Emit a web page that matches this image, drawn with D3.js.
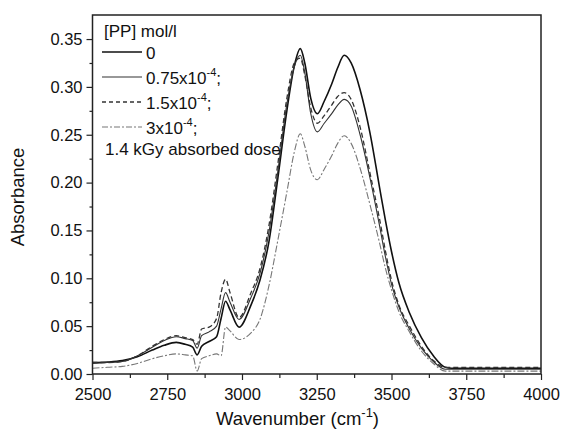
<!DOCTYPE html>
<html>
<head>
<meta charset="utf-8">
<script src="https://cdn.jsdelivr.net/npm/d3@7"></script>
<style>
	body { margin: 0; background: #fff; }
	text { font-family: "Liberation Sans", Arial, sans-serif; fill: #111; }
</style>
</head>
<body>
<div id="chart"></div>
<script>
// wavenumber grid (cm-1) shared by all spectra
const wavenumbers = [2500, 2550, 2600, 2650, 2700, 2740, 2780, 2810, 2835, 2850, 2865, 2890, 2915, 2930, 2945, 2960, 2990,
	3030, 3060, 3090, 3120, 3150, 3175, 3195, 3210, 3230, 3252, 3275, 3300, 3320, 3342, 3365, 3395, 3428, 3460, 3480,
	3500, 3525, 3560, 3600, 3640, 3680, 3700, 3800, 3900, 4000]

const abs0 = [0.012, 0.0125, 0.014, 0.018, 0.025, 0.030, 0.033, 0.031, 0.028, 0.020, 0.029, 0.034, 0.039, 0.058, 0.076, 0.067, 0.049,
	0.072, 0.098, 0.138, 0.205, 0.275, 0.322, 0.340, 0.325, 0.288, 0.272, 0.285, 0.303, 0.320, 0.333, 0.325, 0.297, 0.252, 0.195, 0.160,
	0.128, 0.095, 0.064, 0.038, 0.019, 0.007, 0.006, 0.006, 0.006, 0.006]

const abs075 = [0.011, 0.012, 0.013, 0.019, 0.028, 0.035, 0.039, 0.037, 0.035, 0.027, 0.040, 0.044, 0.050, 0.068, 0.085, 0.075, 0.057,
	0.080, 0.105, 0.148, 0.212, 0.282, 0.321, 0.333, 0.315, 0.272, 0.253, 0.262, 0.272, 0.281, 0.287, 0.280, 0.250, 0.205, 0.155, 0.122,
	0.094, 0.070, 0.047, 0.027, 0.013, 0.005, 0.005, 0.005, 0.005, 0.005]

const abs15 = [0.012, 0.012, 0.013, 0.019, 0.029, 0.036, 0.040, 0.038, 0.036, 0.031, 0.047, 0.049, 0.058, 0.085, 0.099, 0.085, 0.059,
	0.085, 0.110, 0.155, 0.220, 0.288, 0.325, 0.330, 0.312, 0.278, 0.262, 0.270, 0.281, 0.290, 0.294, 0.287, 0.258, 0.210, 0.162, 0.128,
	0.098, 0.072, 0.050, 0.029, 0.014, 0.007, 0.007, 0.007, 0.007, 0.007]

const abs3 = [0.006, 0.007, 0.008, 0.011, 0.016, 0.019, 0.021, 0.020, 0.019, 0.003, 0.016, 0.019, 0.021, 0.019, 0.049, 0.045, 0.036,
	0.043, 0.057, 0.092, 0.140, 0.190, 0.232, 0.251, 0.238, 0.213, 0.203, 0.214, 0.228, 0.241, 0.249, 0.241, 0.215, 0.177, 0.137, 0.110,
	0.088, 0.065, 0.044, 0.024, 0.011, 0.003, 0.003, 0.003, 0.003, 0.003]

const legendTitle = "[PP] mol/l"
const legendNote = "1.4 kGy absorbed dose"
const xTicks = [2500, 2750, 3000, 3250, 3500, 3750, 4000]
const yTicks = [0.00, 0.05, 0.10, 0.15, 0.20, 0.25, 0.30, 0.35]

const series = [
	{ label: "0", sup: "", values: abs0, color: "#111", width: 1.6, dash: null, legendDash: null },
	{ label: "0.75x10", sup: "-4", values: abs075, color: "#333", width: 1.1, dash: null, legendDash: null },
	{ label: "1.5x10", sup: "-4", values: abs15, color: "#333", width: 1.3, dash: "5,3", legendDash: "4,3" },
	{ label: "3x10", sup: "-4", values: abs3, color: "#777", width: 1.1, dash: "7,2,2,2", legendDash: "6,2,2,2" }
]

const params = { width: 561, height: 435, left: 92.5, right: 541, top: 15, bottom: 374 }

const svg = d3.select("#chart")
	.append("svg")
	.attr("width", params.width)
	.attr("height", params.height)

const xScale = d3.scaleLinear().domain([2500, 4000]).range([params.left, params.right])
const yScale = d3.scaleLinear().domain([0, 0.35]).range([params.bottom, params.bottom - 0.35 * 957])

// minor ticks first, then the labelled axes
svg.append("g")
	.attr("transform", `translate(${params.left},0)`)
	.call(d3.axisLeft(yScale).tickValues(d3.range(0.025, 0.37, 0.05)).tickSize(3).tickFormat(""))
	.call(g => g.select(".domain").remove())

svg.append("g")
	.attr("transform", `translate(0,${params.bottom})`)
	.call(d3.axisBottom(xScale).tickValues(d3.range(2625, 4000, 250)).tickSize(4).tickFormat(""))
	.call(g => g.select(".domain").remove())

const yAxis = svg.append("g")
	.attr("transform", `translate(${params.left},0)`)
	.call(d3.axisLeft(yScale).tickValues(yTicks).tickSize(6).tickPadding(4).tickFormat(d3.format(".2f")))
yAxis.select(".domain").remove()
yAxis.selectAll("text").attr("font-size", 16.5).attr("font-family", null)

const xAxis = svg.append("g")
	.attr("transform", `translate(0,${params.bottom})`)
	.call(d3.axisBottom(xScale).tickValues(xTicks).tickSize(6).tickPadding(8).tickFormat(d3.format("d")))
xAxis.select(".domain").remove()
xAxis.selectAll("text").attr("font-size", 16.5).attr("font-family", null)

svg.selectAll(".tick line").attr("stroke", "#222").attr("stroke-width", 1.2)

// spectra
const lineGenerator = d3.line()
	.x((d, i) => xScale(wavenumbers[i]))
	.y(d => yScale(d))
	.curve(d3.curveMonotoneX)

svg.append("g")
	.selectAll("path")
	.data(series)
	.join("path")
	.attr("fill", "none")
	.attr("stroke", d => d.color)
	.attr("stroke-width", d => d.width)
	.attr("stroke-dasharray", d => d.dash)
	.attr("d", d => lineGenerator(d.values))

// plot frame
svg.append("rect")
	.attr("x", params.left)
	.attr("y", params.top)
	.attr("width", params.right - params.left)
	.attr("height", params.bottom - params.top)
	.attr("fill", "none")
	.attr("stroke", "#222")
	.attr("stroke-width", 1.5)

// axis titles
svg.append("text")
	.attr("transform", "translate(24,197) rotate(-90)")
	.attr("text-anchor", "middle")
	.attr("font-size", 18.5)
	.text("Absorbance")

const xTitle = svg.append("text")
	.attr("x", 216)
	.attr("y", 425)
	.attr("font-size", 18.5)
xTitle.append("tspan").text("Wavenumber (cm")
xTitle.append("tspan").attr("font-size", 13).attr("dy", -8).text("-1")
xTitle.append("tspan").attr("dy", 8).text(")")

// legend
const legend = svg.append("g").attr("font-size", 17)
legend.append("text").attr("x", 104).attr("y", 37).text(legendTitle)

series.forEach((s, i) => {
	const ly = 52 + i * 25
	legend.append("line")
		.attr("x1", 102).attr("x2", 142)
		.attr("y1", ly).attr("y2", ly)
		.attr("stroke", s.color)
		.attr("stroke-width", s.width)
		.attr("stroke-dasharray", s.legendDash)
	const t = legend.append("text").attr("x", 146).attr("y", ly + 7)
	t.append("tspan").text(s.label)
	if (s.sup) {
		t.append("tspan").attr("font-size", 11).attr("dy", -8).text(s.sup)
		t.append("tspan").attr("dy", 8).text(";")
	}
})

legend.append("text").attr("x", 105).attr("y", 155).text(legendNote)
</script>
</body>
</html>
